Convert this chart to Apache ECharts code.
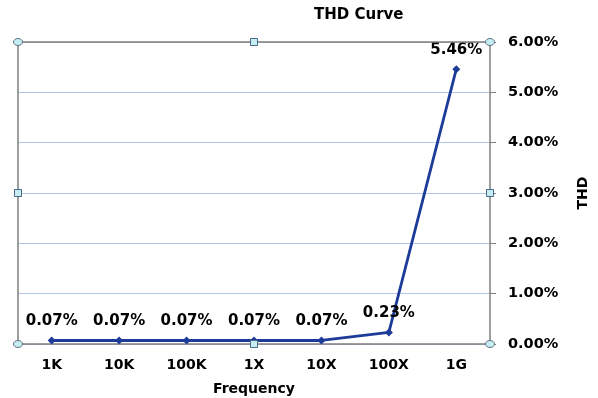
<!DOCTYPE html>
<html><head><meta charset="utf-8">
<script src="https://cdn.jsdelivr.net/npm/echarts@6/dist/echarts.min.js"></script>
<style>html,body{margin:0;padding:0;background:#fff}#c{width:598px;height:398px}</style>
</head><body><div id="c"></div>
<script>
const categories = ['1K','10K','100K','1X','10X','100X','1G'];
const thdValues = [0.07, 0.07, 0.07, 0.07, 0.07, 0.23, 5.46];
const yTicks = [0, 1, 2, 3, 4, 5, 6];

const chart = echarts.init(document.getElementById('c'));
const font = 'DejaVu Sans, Verdana, sans-serif';
const L = 18, R = 490, T = 42, B = 344;
function handle(x, y, shape) {
  if (shape === 'circle') {
    return {type:'ellipse', shape:{cx:x, cy:y, rx:4.5, ry:3.5}, style:{fill:'#c6eef2', stroke:'#5a7080', lineWidth:1}, z:100};
  }
  return {type:'rect', shape:{x:x-3.5, y:y-3.5, width:7, height:7}, style:{fill:'#c6eef2', stroke:'#4a6a8a', lineWidth:1}, z:100};
}
chart.setOption({
  animation:false,
  title:{text:'THD Curve', left:309, top:3, textStyle:{fontFamily:font, fontSize:15, fontWeight:'bold', color:'#000'}},
  grid:{left:L, right:598-R, top:T, bottom:398-B, containLabel:false, outerBoundsMode:'none'},
  xAxis:{
    type:'category', data:categories, boundaryGap:true,
    name:'Frequency', nameLocation:'middle', nameGap:38,
    nameTextStyle:{fontFamily:font, fontSize:14, fontWeight:'bold', color:'#000'},
    axisLine:{lineStyle:{color:'#7f7f7f', width:1.5}},
    axisTick:{show:false},
    axisLabel:{margin:14, fontFamily:font, fontSize:14, fontWeight:'bold', color:'#000'},
    splitLine:{show:false}
  },
  yAxis:{
    type:'value', position:'right', min:yTicks[0], max:yTicks[yTicks.length-1], interval:1,
    name:'THD', nameLocation:'middle', nameGap:86, nameRotate:90,
    nameTextStyle:{fontFamily:font, fontSize:14, fontWeight:'bold', color:'#000'},
    axisLine:{show:true, lineStyle:{color:'#7f7f7f', width:1.5}},
    axisTick:{show:true, length:6, lineStyle:{color:'#7f7f7f'}},
    axisLabel:{margin:18, fontFamily:font, fontSize:14.5, fontWeight:'bold', color:'#000',
      formatter:v=>v.toFixed(2)+'%'},
    splitLine:{show:true, lineStyle:{color:'#b4c6e7', width:1}}
  },
  series:[{
    type:'line', data:thdValues,
    symbol:'diamond', symbolSize:8,
    lineStyle:{color:'#1d3b98', width:2.8},
    itemStyle:{color:'#1d3b98'},
    label:{show:true, position:'top', distance:8, fontFamily:font, fontSize:15, fontWeight:'bold', color:'#000',
      formatter:p=>p.value.toFixed(2)+'%'}
  }],
  graphic:[
    {type:'line', shape:{x1:L, y1:T, x2:R, y2:T}, style:{stroke:'#7f7f7f', lineWidth:1.5}, z:50},
    {type:'line', shape:{x1:L, y1:T, x2:L, y2:B}, style:{stroke:'#7f7f7f', lineWidth:1.5}, z:50},
    handle(L,T,'circle'), handle((L+R)/2,T,'rect'), handle(R,T,'circle'),
    handle(L,(T+B)/2,'rect'), handle(R,(T+B)/2,'rect'),
    handle(L,B,'circle'), handle((L+R)/2,B,'rect'), handle(R,B,'circle')
  ]
});
</script></body></html>
